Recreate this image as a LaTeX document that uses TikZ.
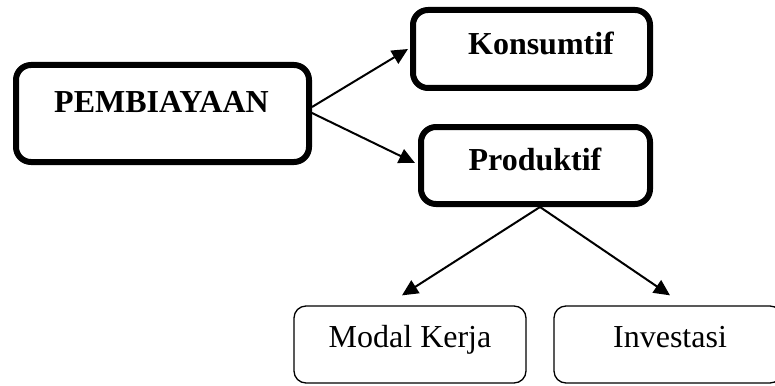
\documentclass[tikz,border=0pt]{standalone}
\usepackage{fontspec}
\setmainfont{Liberation Serif}
\usetikzlibrary{arrows.meta}
\begin{document}
\begin{tikzpicture}[x=1pt,y=-1pt,
  bigbox/.style={draw,line width=6pt,rounded corners=15pt,inner sep=0pt},
  smallbox/.style={draw,line width=1.3pt,rounded corners=12pt,inner sep=0pt},
  lbl/.style={anchor=base,inner sep=0pt,font=\fontsize{32}{36}\selectfont},
  blbl/.style={lbl,font=\fontsize{32}{36}\selectfont\bfseries},
  arr/.style={line width=2pt,-{Triangle[length=16pt,width=15pt]}}]
\useasboundingbox (0,0) rectangle (775,385);
\node[bigbox,minimum width=293pt,minimum height=97pt] (p) at (162.5,113.5) {};
\node[bigbox,minimum width=237pt,minimum height=78pt] (k) at (531.5,49) {};
\node[bigbox,minimum width=229pt,minimum height=77pt] (pr) at (535.5,165.5) {};
\node[smallbox,minimum width=232pt,minimum height=77pt] (m) at (410,344.5) {};
\node[smallbox,minimum width=228pt,minimum height=77pt] (i) at (668,344.5) {};
\node[blbl] (tp) at (161.5,112) {PEMBIAYAAN};
\node[blbl] (tk) at (541,55) {Konsumtif};
\node[blbl] (tpr) at (535,170) {Produktif};
\node[lbl] (tm) at (410,347) {Modal Kerja};
\node[lbl] (ti) at (670,347) {Investasi};
\draw[arr] ([yshift=6.5pt]p.east) -- ([xshift=-2pt]k.west);
\draw[arr] ([yshift=0.5pt]p.east) -- ([xshift=-3pt,yshift=2.5pt]pr.west);
\draw[arr] ([xshift=4.5pt]pr.south) -- ([xshift=-8pt,yshift=10pt]m.north);
\draw[arr] ([xshift=4.5pt]pr.south) -- ([xshift=2pt,yshift=10pt]i.north);
\end{tikzpicture}
\end{document}
